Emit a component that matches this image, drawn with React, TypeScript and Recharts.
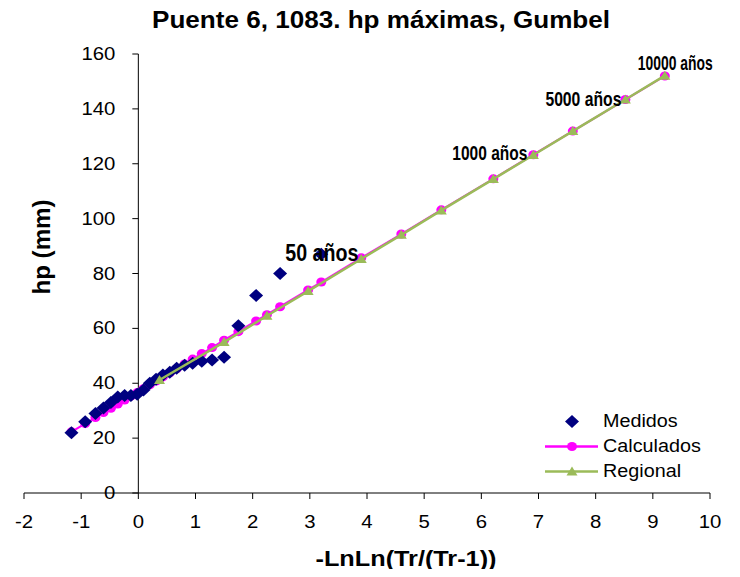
import { ScatterChart, Scatter, XAxis, YAxis, ReferenceLine, ReferenceDot, Legend } from 'recharts'

// measured maxima, plotted at Weibull positions (rank 1 = largest)
const medidosX = [3.2, 2.48, 2.06, 1.75, 1.5, 1.29, 1.11, 0.95, 0.81, 0.67, 0.55, 0.43, 0.31, 0.2, 0.09, -0.02, -0.13, -0.24, -0.36, -0.48, -0.61, -0.75, -0.93, -1.17]
const medidosHp = [87, 80, 72, 61, 49.5, 48.5, 48, 47.3, 46.6, 45.5, 44, 43, 41.5, 40, 37.5, 36, 35.5, 35.5, 35, 33, 31, 29, 26, 22]

// fitted Gumbel (calculados)
const calcX = [-1.17, -0.93, -0.75, -0.61, -0.48, -0.36, -0.24, -0.13, -0.02, 0.09, 0.2, 0.31, 0.37, 0.43, 0.55, 0.67, 0.81, 0.95, 1.11, 1.29, 1.5, 1.75, 2.06, 2.25, 2.48, 2.97, 3.2, 3.9, 4.6, 5.3, 6.21, 6.91, 7.6, 8.52, 9.21]
const calcHp = [22.3, 25.3, 27.5, 29.3, 30.9, 32.4, 33.9, 35.3, 36.6, 38.0, 39.4, 40.8, 41.5, 42.3, 43.8, 45.3, 47.0, 48.8, 50.8, 53.0, 55.7, 58.8, 62.7, 65.0, 67.9, 74.0, 76.9, 85.7, 94.4, 103.2, 114.5, 123.3, 131.9, 143.4, 152.0]

// regional curve
const regX = [0.37, 1.5, 2.25, 2.97, 3.9, 4.6, 5.3, 6.21, 6.91, 7.6, 8.52, 9.21]
const regHp = [41.2, 55.0, 64.6, 73.6, 85.3, 94.1, 103.0, 114.4, 123.2, 131.9, 143.4, 152.1]

const xTicks = [-2, -1, 0, 1, 2, 3, 4, 5, 6, 7, 8, 9, 10]
const yTicks = [0, 20, 40, 60, 80, 100, 120, 140, 160]

const notes = ['50 años', '1000 años', '5000 años', '10000 años']
const notesX = [3.9, 6.91, 8.52, 9.21]
const notesHp = [85.7, 123.3, 143.4, 152.0]

const NAVY = '#000080'
const MAGENTA = '#FF00FF'
const GREEN = '#9BBB59'
const FONT = '"Liberation Sans", Arial, sans-serif'
const SX = 1.13 // the picture is a bit wider than tall

const W = 740
const H = 577
const M = { top: 54, right: 30, bottom: 44, left: 23 }
const Y_AXIS_W = 1
const X_MIN = -2
const X_MAX = 10
const PLOT_L = M.left + Y_AXIS_W
const ZX = PLOT_L + ((0 - X_MIN) / (X_MAX - X_MIN)) * (W - PLOT_L - M.right)

// label placement for the return-period notes
const noteStyle = [
  { anchor: 'end', dx: -3, dy: 3, size: 23, len: 73 },
  { anchor: 'end', dx: -6, dy: 5, size: 21, len: 75 },
  { anchor: 'end', dx: -4, dy: 6, size: 21, len: 76 },
  { anchor: 'start', dx: -27, dy: -6, size: 21, len: 75 },
]

const toPts = (xs: number[], ys: number[]) => xs.map((x, i) => ({ x, y: ys[i] }))

const Diamond = ({ cx, cy }: any) => (
  <polygon points={`${cx},${cy - 6.5} ${cx + 7},${cy} ${cx},${cy + 6.5} ${cx - 7},${cy}`} fill={NAVY} />
)
const Dot = ({ cx, cy }: any) => <ellipse cx={cx} cy={cy} rx={5} ry={4.5} fill={MAGENTA} />
const Tri = ({ cx, cy }: any) => (
  <polygon points={`${cx},${cy - 5} ${cx + 5.5},${cy + 4} ${cx - 5.5},${cy + 4}`} fill={GREEN} />
)

const XTick = ({ x, y, payload }: any) => (
  <text transform={`translate(${x},${y + 29}) scale(${SX},1)`} textAnchor="middle" fontSize={18} fontFamily={FONT} fill="#000">
    {payload.value}
  </text>
)

const YTick = ({ y, payload }: any) => (
  <g>
    <line x1={ZX - 6} x2={ZX} y1={y} y2={y} stroke="#000" />
    <text transform={`translate(${ZX - 23},${y + 6}) scale(${SX},1)`} textAnchor="end" fontSize={18} fontFamily={FONT} fill="#000">
      {payload.value}
    </text>
  </g>
)

const legendItems = [
  { name: 'Medidos', color: NAVY, line: false, Icon: Diamond },
  { name: 'Calculados', color: MAGENTA, line: true, Icon: Dot },
  { name: 'Regional', color: GREEN, line: true, Icon: Tri },
]

const LegendBox = () => (
  <div style={{ fontFamily: FONT, fontSize: 17.5, color: '#000' }}>
    {legendItems.map(({ name, color, line, Icon }) => (
      <div key={name} style={{ display: 'flex', alignItems: 'center', height: 25 }}>
        <svg width={53} height={25}>
          {line && <line x1={0} x2={53} y1={12.5} y2={12.5} stroke={color} strokeWidth={2.5} />}
          <Icon cx={27} cy={12.5} />
        </svg>
        <span style={{ marginLeft: 5, display: 'inline-block', transform: `scaleX(${SX})`, transformOrigin: 'left' }}>{name}</span>
      </div>
    ))}
  </div>
)

export default function App() {
  return (
    <div style={{ margin: -8, width: W, height: H }}>
      <ScatterChart width={W} height={H} margin={M}>
        <XAxis
          type="number"
          dataKey="x"
          domain={[X_MIN, X_MAX]}
          ticks={xTicks}
          height={40}
          tickSize={6}
          tickMargin={0}
          axisLine={{ stroke: '#000' }}
          tickLine={{ stroke: '#000' }}
          tick={<XTick />}
        />
        <YAxis
          type="number"
          dataKey="y"
          domain={[0, 160]}
          ticks={yTicks}
          width={Y_AXIS_W}
          interval={0}
          axisLine={false}
          tickLine={false}
          tick={<YTick />}
        />
        <ReferenceLine x={0} stroke="#000" />
        <Scatter
          name="Calculados"
          data={toPts(calcX, calcHp)}
          fill={MAGENTA}
          line={{ stroke: MAGENTA, strokeWidth: 2 }}
          lineType="joint"
          shape={Dot}
          isAnimationActive={false}
        />
        <Scatter name="Medidos" data={toPts(medidosX, medidosHp)} fill={NAVY} shape={Diamond} isAnimationActive={false} />
        <Scatter
          name="Regional"
          data={toPts(regX, regHp)}
          fill={GREEN}
          line={{ stroke: GREEN, strokeWidth: 2.5 }}
          lineType="joint"
          shape={Tri}
          isAnimationActive={false}
        />
        {notes.map((t, i) => {
          const s = noteStyle[i]
          return (
            <ReferenceDot
              key={t}
              x={notesX[i]}
              y={notesHp[i]}
              r={0}
              ifOverflow="visible"
              shape={({ cx, cy }: any) => (
                <text
                  x={cx + s.dx}
                  y={cy + s.dy}
                  textAnchor={s.anchor as any}
                  fontSize={s.size}
                  fontWeight="bold"
                  fontFamily={FONT}
                  textLength={s.len}
                  lengthAdjust="spacingAndGlyphs"
                  fill="#000"
                >
                  {t}
                </text>
              )}
            />
          )
        })}
        <Legend
          layout="vertical"
          align="center"
          verticalAlign="middle"
          content={<LegendBox />}
          wrapperStyle={{ left: 545, top: 409, width: 180 }}
        />
        <text x={381} y={28} textAnchor="middle" fontSize={23} fontWeight="bold" fontFamily={FONT} textLength={458} lengthAdjust="spacingAndGlyphs">
          Puente 6, 1083. hp máximas, Gumbel
        </text>
        <text x={406} y={566} textAnchor="middle" fontSize={22} fontWeight="bold" fontFamily={FONT} textLength={181} lengthAdjust="spacingAndGlyphs">
          -LnLn(Tr/(Tr-1))
        </text>
        <text
          transform="translate(50,247) rotate(-90)"
          textAnchor="middle"
          fontSize={23}
          fontWeight="bold"
          fontFamily={FONT}
          textLength={95}
          lengthAdjust="spacingAndGlyphs"
        >
          hp (mm)
        </text>
      </ScatterChart>
    </div>
  )
}
